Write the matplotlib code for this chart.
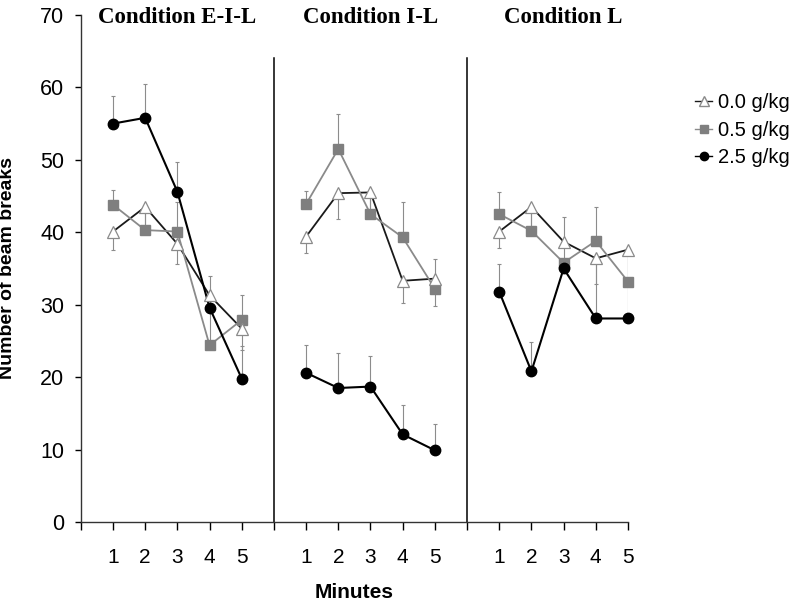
import matplotlib.pyplot as plt
from matplotlib.lines import Line2D

plt.rcParams['font.family'] = ['Liberation Sans', 'DejaVu Sans']

# data
minutes = [1, 2, 3, 4, 5]
conditions = ['Condition E-I-L', 'Condition I-L', 'Condition L']
doses = ['0.0 g/kg', '0.5 g/kg', '2.5 g/kg']

# 0.0 g/kg (triangles), one row per condition
dose0_mean = [[40.1, 43.5, 38.4, 31.3, 26.7],
              [39.4, 45.4, 45.5, 33.3, 33.6],
              [40.1, 43.5, 38.7, 36.4, 37.6]]
dose0_err_lo = [[2.6, 3.0, 2.8, 2.0, 3.0],
                [2.2, 3.6, 2.5, 3.0, 3.8],
                [2.3, 3.3, 0.0, 3.6, 0.0]]
dose0_err_hi = [[0, 0, 0, 0, 0],
                [0, 0, 0, 0, 0],
                [0, 0, 0, 0, 0]]

# 0.5 g/kg (squares)
dose05_mean = [[43.8, 40.3, 40.1, 24.4, 27.9],
               [43.9, 51.5, 42.5, 39.3, 32.2],
               [42.5, 40.2, 35.8, 38.8, 33.2]]
dose05_err_hi = [[2.0, 3.2, 4.1, 5.0, 3.4],
                 [1.8, 4.8, 2.5, 4.9, 4.1],
                 [3.0, 3.3, 6.3, 4.7, 4.4]]

# 2.5 g/kg (circles)
dose25_mean = [[55.0, 55.8, 45.6, 29.6, 19.8],
               [20.6, 18.5, 18.7, 12.1, 9.9],
               [31.8, 20.8, 35.0, 28.1, 28.1]]
dose25_err_hi = [[3.8, 4.6, 4.1, 4.3, 4.5],
                 [3.9, 4.8, 4.2, 4.1, 3.6],
                 [3.8, 4.1, 1.0, 8.0, 9.0]]

fig = plt.figure(figsize=(8, 6.08), dpi=100)
ax = fig.add_axes([0.101, 0.1414, 0.684, 0.834])

ecol = '#8c8c8c'
for i in range(3):
    xs = [m + 6 * i for m in minutes]
    zeros = [0] * 5
    # triangles
    ax.errorbar(xs, dose0_mean[i], yerr=[dose0_err_lo[i], dose0_err_hi[i]],
                fmt='none', ecolor=ecol, elinewidth=0.8, capsize=1.5, capthick=0.8, zorder=2)
    ax.plot(xs, dose0_mean[i], '-', color='#1a1a1a', lw=1.3, zorder=3)
    # squares
    ax.errorbar(xs, dose05_mean[i], yerr=[zeros, dose05_err_hi[i]],
                fmt='none', ecolor=ecol, elinewidth=0.8, capsize=1.5, capthick=0.8, zorder=2)
    ax.plot(xs, dose05_mean[i], '-', color='#8a8a8a', lw=1.3, zorder=3)
    # circles
    ax.errorbar(xs, dose25_mean[i], yerr=[zeros, dose25_err_hi[i]],
                fmt='none', ecolor=ecol, elinewidth=0.8, capsize=1.5, capthick=0.8, zorder=2)
    ax.plot(xs, dose25_mean[i], '-', color='black', lw=1.5, zorder=3)

    ax.plot(xs, dose05_mean[i], 's', ms=7, mfc='#7f7f7f', mec='#7f7f7f', zorder=4, clip_on=False)
    ax.plot(xs, dose0_mean[i], '^', ms=8, mfc='white', mec='#8a8a8a', mew=0.9, zorder=5, clip_on=False)
    ax.plot(xs, dose25_mean[i], 'o', ms=7.5, mfc='black', mec='black', zorder=5, clip_on=False)

    ax.text(3 + 6 * i, 69.7, conditions[i], ha='center', va='center',
            family='Liberation Serif', fontweight='bold', fontsize=16.5)

# panel dividers
for xd in [6, 12]:
    ax.plot([xd, xd], [0, 64], color='black', lw=1.1)

ax.set_xlim(0, 17)
ax.set_ylim(0, 70)
ax.set_yticks(range(0, 71, 10))
ax.set_xticks(range(0, 18))
lbls = []
for k in range(18):
    lbls.append(str(k % 6) if k % 6 != 0 else '')
ax.set_xticklabels(lbls)
ax.tick_params(axis='x', direction='out', length=6, width=1, pad=13, labelsize=15)
ax.tick_params(axis='y', direction='out', length=4, width=1, pad=8, labelsize=15.5)
for s in ['top', 'right']:
    ax.spines[s].set_visible(False)
for s in ['left', 'bottom']:
    ax.spines[s].set_color('#333333')
    ax.spines[s].set_linewidth(1)

ax.set_ylabel('Number of beam breaks', fontsize=14, fontweight='bold')
ax.yaxis.set_label_coords(-0.118, 0.5)
ax.set_xlabel('Minutes', fontsize=15, fontweight='bold')
ax.xaxis.set_label_coords(0.5, -0.12)

handles = [
    Line2D([], [], color='#1a1a1a', lw=1, marker='^', ms=7, mfc='white', mec='#8a8a8a'),
    Line2D([], [], color='#8a8a8a', lw=1, marker='s', ms=6, mfc='#7f7f7f', mec='#7f7f7f'),
    Line2D([], [], color='black', lw=1, marker='o', ms=6, mfc='black'),
]
fig.legend(handles, doses, loc='center left', bbox_to_anchor=(0.869, 0.786),
           frameon=False, fontsize=14.5, handlelength=0.85, handletextpad=0.3,
           labelspacing=0.42, borderpad=0, borderaxespad=0)

fig.savefig('out.png', dpi=100)
